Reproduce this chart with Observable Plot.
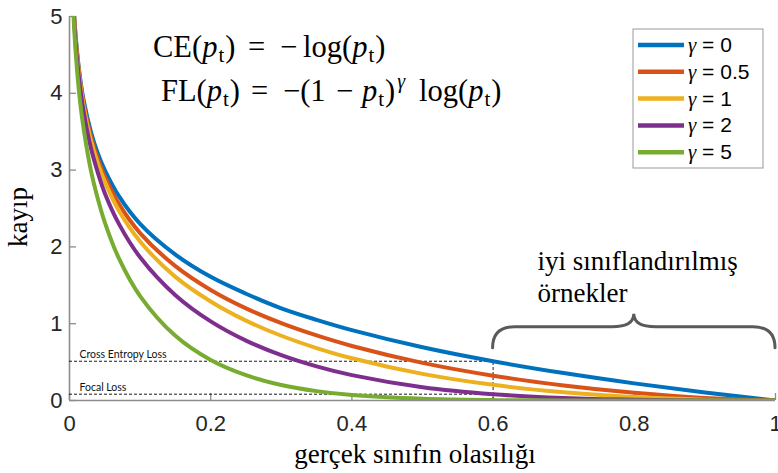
<!DOCTYPE html>
<html>
<head>
<meta charset="utf-8">
<script src="https://cdn.jsdelivr.net/npm/d3@7"></script>
<script src="https://cdn.jsdelivr.net/npm/@observablehq/plot@0.6"></script>
<style>
  body { margin: 0; background: #fff; }
  svg { display: block; }
</style>
</head>
<body>
<div id="chart"></div>
<script>
// Probability of the true class (x) at which each loss curve is sampled
const p = [0.005, 0.0067, 0.01, 0.015, 0.02, 0.03, 0.04, 0.05, 0.07, 0.1, 0.15, 0.2, 0.25, 0.3, 0.35, 0.4, 0.5, 0.6, 0.7, 0.8, 0.9, 1.0];

// Loss values for each focusing parameter gamma
const lossG0   = [5.30, 5.00, 4.61, 4.20, 3.91, 3.51, 3.22, 3.00, 2.66, 2.30, 1.90, 1.61, 1.39, 1.20, 1.05, 0.916, 0.693, 0.511, 0.357, 0.223, 0.105, 0];
const lossG05  = [5.29, 4.98, 4.58, 4.17, 3.87, 3.45, 3.15, 2.92, 2.56, 2.18, 1.75, 1.44, 1.20, 1.007, 0.847, 0.710, 0.490, 0.323, 0.196, 0.100, 0.033, 0];
const lossG1   = [5.27, 4.97, 4.56, 4.14, 3.83, 3.40, 3.09, 2.85, 2.47, 2.07, 1.61, 1.29, 1.04, 0.843, 0.683, 0.550, 0.347, 0.204, 0.107, 0.045, 0.011, 0];
const lossG2   = [5.25, 4.93, 4.51, 4.08, 3.76, 3.30, 2.97, 2.70, 2.30, 1.865, 1.371, 1.030, 0.780, 0.590, 0.444, 0.330, 0.173, 0.082, 0.032, 0.009, 0.001, 0];
const lossG5   = [5.17, 4.83, 4.38, 3.89, 3.54, 3.01, 2.63, 2.32, 1.85, 1.36, 0.842, 0.527, 0.329, 0.202, 0.122, 0.071, 0.022, 0.005, 0.001, 0, 0, 0];

const gammaLabels = ["0", "0.5", "1", "2", "5"];
const gammaColors = ["#0072BD", "#D95319", "#EDB120", "#7E2F8E", "#77AC30"];
const series = [lossG0, lossG05, lossG1, lossG2, lossG5];

const xTicks = [0, 0.2, 0.4, 0.6, 0.8, 1];
const yTicks = [0, 1, 2, 3, 4, 5];

// Threshold beyond which examples count as well classified
const wellClassifiedFrom = 0.6;
const wellClassifiedTo = 1.0;

// Long-format table for the line mark
const rows = series.flatMap((vals, k) =>
  p.map((pv, i) => ({ p: pv, loss: vals[i], gamma: gammaLabels[k] }))
);

const iMark = p.indexOf(wellClassifiedFrom);
const ceAtMark = lossG0[iMark];
const flAtMark = lossG2[iMark];

const W = 778, H = 473;
const mL = 69, mR = 3, mT = 16, mB = 73;
const plotW = W - mL - mR, plotH = H - mT - mB;
const axisGray = "#8c8c8c";
const sans = "'Liberation Sans', Arial, sans-serif";
const serif = "'Liberation Serif', 'Times New Roman', serif";

const svg = Plot.plot({
  width: W,
  height: H,
  marginLeft: mL,
  marginRight: mR,
  marginTop: mT,
  marginBottom: mB,
  style: { fontFamily: sans, background: "#fff", overflow: "visible" },
  x: { domain: [0, 1] },
  y: { domain: [0, 5] },
  color: { domain: gammaLabels, range: gammaColors },
  marks: [
    Plot.axisX(xTicks, { tickSize: 0, tickPadding: 15, fontSize: 22, fill: "#262626", label: null, tickFormat: d => String(d) }),
    Plot.axisY(yTicks, { tickSize: 0, tickPadding: 7, fontSize: 22, fill: "#262626", label: null, tickFormat: d => String(d) }),
    // inward tick marks
    Plot.tickY(yTicks, { y: d => d, stroke: axisGray, strokeWidth: 1.3, insetRight: plotW - 7 }),
    Plot.tickX(xTicks, { x: d => d, stroke: axisGray, strokeWidth: 1.3, insetTop: plotH - 7 }),
    // axis lines
    Plot.ruleX([0], { stroke: axisGray, strokeWidth: 1.6 }),
    Plot.ruleY([0], { stroke: axisGray, strokeWidth: 1.6 }),
    // dashed guides at the well-classified threshold
    Plot.ruleY([ceAtMark], { x1: 0, x2: wellClassifiedFrom, stroke: "#000", strokeWidth: 0.9, strokeDasharray: "3,2" }),
    Plot.ruleY([flAtMark], { x1: 0, x2: wellClassifiedFrom, stroke: "#000", strokeWidth: 0.9, strokeDasharray: "3,2" }),
    Plot.ruleX([wellClassifiedFrom], { y1: 0, y2: ceAtMark, stroke: "#000", strokeWidth: 0.9, strokeDasharray: "3,2" }),
    Plot.text([{ y: ceAtMark, t: "Cross Entropy Loss" }, { y: flAtMark, t: "Focal Loss" }], {
      x: 0, y: "y", text: "t", dx: 10, dy: -3, textAnchor: "start", lineAnchor: "bottom",
      fontFamily: "Lato, 'Open Sans', sans-serif", fontSize: 10.5, fill: "#111"
    }),
    // loss curves
    Plot.line(rows, {
      x: "p", y: "loss", z: "gamma", stroke: "gamma",
      strokeWidth: 4, curve: "catmull-rom", clip: true
    })
  ]
});

document.getElementById("chart").appendChild(svg);

const root = d3.select(svg);
const xs = svg.scale("x"), ys = svg.scale("y");

// Axis titles
root.append("text")
  .attr("x", (mL + W - mR) / 2 - 7).attr("y", 463)
  .attr("text-anchor", "middle")
  .attr("font-family", serif).attr("font-size", 27).attr("fill", "#000")
  .text("gerçek sınıfın olasılığı");
root.append("text")
  .attr("transform", "translate(27,217) rotate(-90)")
  .attr("text-anchor", "middle")
  .attr("font-family", serif).attr("font-size", 27).attr("fill", "#000")
  .text("kayıp");

// Formulas: each part is [text, kind, absolute x (optional), dx (optional)]
function formula(y, parts) {
  const t = root.append("text").attr("y", y)
    .attr("text-anchor", "start")
    .attr("font-family", serif).attr("font-size", 30.5).attr("fill", "#000");
  let shift = 0;
  for (const [s, kind, x, dx] of parts) {
    const ts = t.append("tspan").text(s);
    let target = 0;
    if (kind === "i") ts.attr("font-style", "italic");
    if (kind === "sub") { ts.attr("font-size", 21); target = 5; }
    if (kind === "sup") { ts.attr("font-size", 20).attr("font-style", "italic"); target = -13; }
    if (target !== shift) { ts.attr("dy", target - shift); shift = target; }
    if (x != null) ts.attr("x", x);
    if (dx) ts.attr("dx", dx);
  }
}
formula(57, [
  ["CE(", "r", 153], ["p", "i"], ["t", "sub", null, 1], [")", "r", null, 1],
  ["=", "r", 248], ["−", "r", 280], ["log(", "r", 303], ["p", "i"], ["t", "sub", null, 1], [")", "r", null, 1]
]);
formula(101, [
  ["FL(", "r", 161], ["p", "i"], ["t", "sub", null, 1], [")", "r", null, 1],
  ["=", "r", 251], ["−(1", "r", 283], ["−", "r", 336], ["p", "i", 362], ["t", "sub", null, 1], [")", "r", null, 1],
  ["γ", "sup", null, 2], ["log(", "r", 419], ["p", "i"], ["t", "sub", null, 1], [")", "r", null, 1]
]);

// Legend
const lg = root.append("g").attr("text-anchor", "start");
lg.append("rect").attr("x", 633).attr("y", 29).attr("width", 130).attr("height", 139)
  .attr("fill", "#fff").attr("stroke", "#999").attr("stroke-width", 1);
gammaLabels.forEach((g, i) => {
  const cy = 45 + 26.8 * i;
  lg.append("line").attr("x1", 638).attr("x2", 684).attr("y1", cy).attr("y2", cy)
    .attr("stroke", gammaColors[i]).attr("stroke-width", 4.5);
  const t = lg.append("text").attr("x", 688).attr("y", cy + 7)
    .attr("font-size", 21).attr("fill", "#000");
  t.append("tspan").attr("font-family", serif).attr("font-style", "italic").text("γ");
  t.append("tspan").attr("font-family", sans).text(" = " + g);
});

// Brace over well-classified examples
const bx0 = xs.apply(wellClassifiedFrom), bx1 = xs.apply(wellClassifiedTo);
const bxm = (bx0 + bx1) / 2;
const byEnd = ys.apply(ceAtMark) - 13, byArm = byEnd - 21, byTip = byEnd - 34;
const r = 22;
const bp = d3.path();
bp.moveTo(bx0, byEnd);
bp.quadraticCurveTo(bx0, byArm, bx0 + r, byArm);
bp.lineTo(bxm - r, byArm);
bp.quadraticCurveTo(bxm, byArm, bxm, byTip);
bp.quadraticCurveTo(bxm, byArm, bxm + r, byArm);
bp.lineTo(bx1 - r, byArm);
bp.quadraticCurveTo(bx1, byArm, bx1, byEnd);
root.append("path").attr("d", bp.toString()).attr("fill", "none")
  .attr("stroke", "#5a5a5a").attr("stroke-width", 3).attr("stroke-linecap", "round");

const lab = root.append("text").attr("text-anchor", "start")
  .attr("font-family", serif).attr("font-size", 27).attr("fill", "#000");
lab.append("tspan").attr("x", bx0 + 45).attr("y", 270).text("iyi sınıflandırılmış");
lab.append("tspan").attr("x", bx0 + 45).attr("y", 302).text("örnekler");
</script>
</body>
</html>
